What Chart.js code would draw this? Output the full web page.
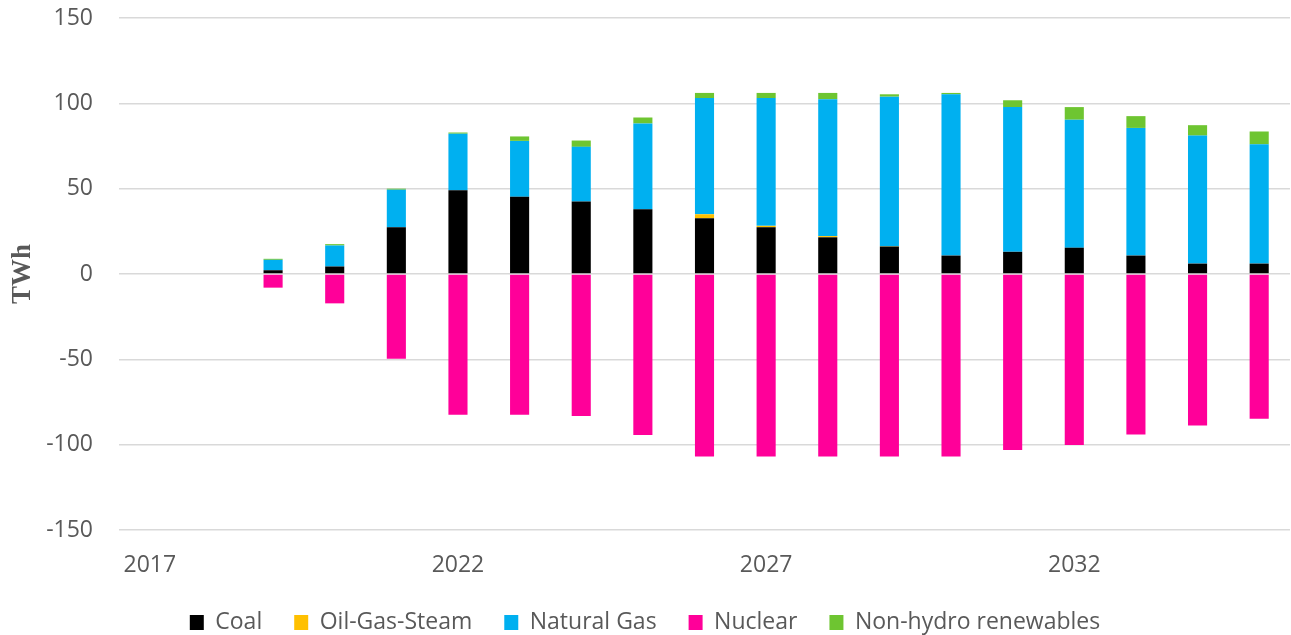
<!DOCTYPE html>
<html>
<head>
<meta charset="utf-8">
<script src="https://cdn.jsdelivr.net/npm/chart.js@4/dist/chart.umd.min.js"></script>
<style>
  html, body { margin: 0; padding: 0; background: #fff; }
  #wrap { width: 1291px; height: 635px; }
</style>
</head>
<body>
<div id="wrap"><canvas id="chart" width="1291" height="635"></canvas></div>
<script>
var years = ['2017', '2018', '2019', '2020', '2021', '2022', '2023', '2024', '2025', '2026',
  '2027', '2028', '2029', '2030', '2031', '2032', '2033', '2034', '2035'];

var coal = [null, null, 2.2, 4.4, 27.4, 49.0, 45.3, 42.5, 37.9, 32.7,
  27.4, 21.5, 16.1, 10.8, 13.0, 15.4, 10.8, 6.1, 6.1];
var oilGasSteam = [null, null, 0, 0, 0, 0, 0, 0, 0, 2.3,
  0.8, 0.7, 0.2, 0, 0, 0, 0, 0, 0];
var naturalGas = [null, null, 6.1, 12.3, 22.0, 33.2, 32.7, 32.0, 50.3, 68.1,
  74.9, 80.2, 87.6, 94.5, 84.8, 75.0, 74.8, 75.0, 69.9];
var nuclear = [null, null, -8.0, -17.2, -49.6, -82.4, -82.4, -83.2, -94.3, -106.9,
  -106.9, -106.9, -106.9, -106.9, -103.1, -100.2, -94.1, -88.8, -84.8];
var renewables = [null, null, 0.6, 0.8, 0.6, 0.7, 2.6, 3.7, 3.5, 3.0,
  3.0, 3.7, 1.4, 0.8, 4.0, 7.4, 6.9, 6.1, 7.5];

var yTicks = [-150, -100, -50, 0, 50, 100, 150];
var xLabelEvery = 5;

var grey = '#595959';
var sans = "'Open Sans', 'Noto Sans', sans-serif";

function series(label, data, color) {
  return {
    label: label,
    data: data,
    backgroundColor: color,
    borderWidth: 0,
    barPercentage: 0.31,
    categoryPercentage: 1.0,
    stack: 'all'
  };
}

// keep the legend band short, like the original
var legendHeight = {
  id: 'legendHeight',
  beforeLayout: function(chart) {
    var lg = chart.legend;
    if (lg && !lg.patched) {
      var fit = lg.fit;
      lg.fit = function() {
        fit.call(this);
        this.height = 56;
      };
      lg.patched = true;
    }
  }
};

var ctx = document.getElementById('chart');
var myChart = new Chart(ctx, { // eslint-disable-line
  type: 'bar',
  data: {
    labels: years,
    datasets: [
      series('Coal', coal, '#000000'),
      series('Oil-Gas-Steam', oilGasSteam, '#FFC000'),
      series('Natural Gas', naturalGas, '#00B0F0'),
      series('Nuclear', nuclear, '#FF0099'),
      series('Non-hydro renewables', renewables, '#6EC531')
    ]
  },
  plugins: [legendHeight],
  options: {
    responsive: false,
    animation: false,
    layout: { padding: { top: 18, right: 1, bottom: 0, left: 0 } },
    plugins: {
      tooltip: { enabled: false },
      legend: {
        position: 'bottom',
        labels: {
          color: grey,
          font: { family: sans, size: 23 },
          boxWidth: 14,
          boxHeight: 15,
          padding: 32
        }
      }
    },
    scales: {
      x: {
        stacked: true,
        grid: { display: false, drawTicks: false },
        border: { display: false },
        afterFit: function(scale) {
          scale.height = 49;
          scale.paddingLeft = 0;
          scale.paddingRight = 0;
        },
        ticks: {
          color: grey,
          font: { family: sans, size: 23, lineHeight: 1.0 },
          autoSkip: false,
          maxRotation: 0,
          padding: 24,
          callback: function(value, index) {
            return index % xLabelEvery === 0 ? years[index] : '';
          }
        }
      },
      y: {
        stacked: true,
        min: -150,
        max: 150,
        afterBuildTicks: function(scale) {
          scale.ticks = yTicks.map(v => ({ value: v }));
        },
        afterFit: function(scale) {
          scale.width = 119;
          scale.paddingTop = 0;
          scale.paddingBottom = 0;
        },
        grid: { color: '#D9D9D9', lineWidth: 1.5, drawTicks: false },
        border: { display: false },
        ticks: {
          color: grey,
          font: { family: sans, size: 23 },
          padding: 26
        },
        title: {
          display: true,
          text: 'TWh',
          color: grey,
          font: { family: "'Liberation Serif', 'DejaVu Serif', serif", size: 27, weight: 'bold' },
          padding: { top: 7, bottom: 0 }
        }
      }
    }
  }
});
</script>
</body>
</html>
